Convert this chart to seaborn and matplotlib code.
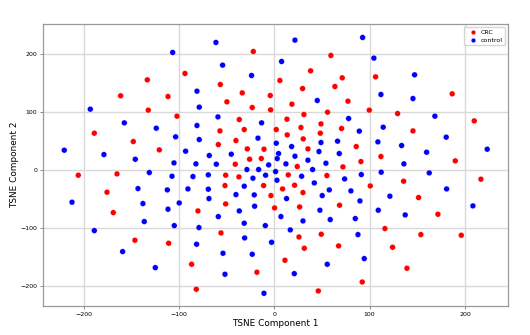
import matplotlib
matplotlib.use("Agg")
import matplotlib.pyplot as plt
import seaborn as sns
import pandas as pd

crc_x = [-22, 59.4, -93.7, 38.1, 106.3, 71.3, -133.2, 5.9, -56.6, 63.6, 29.7, -33.6, 186.7, -161.2,
         -111.5, -4.2, -49.7, 77.3, 18.5, -23.1, -132.2, -3.8, 99.7, 55.9, 129.4, 31.1, -102.1, 13.3,
         -36.7, 209.8, 49, -188.8, 70.6, 28, 2.1, -31.5, -57, 145.5, 48.3, 13.6, 30.4, -147.9, -40.2,
         -58.7, 86, -28.3, -10.8, 35.3, -120.6, 111.9, -13.6, -25.9, 90.9, 189.9, -40.9, 24.1, 72,
         -205.6, -165, -51, -37.1, 14.7, 55.2, 216.8, 135.7, -51.7, -11.2, 21.3, 100.7, 8.7, 30.1,
         -175.5, -3.5, 151.4, -51, 68.5, 26.6, 0.3, -80.1, -168.9, 171.7, 116.1, -55.9, 49.3, 153.8,
         196.2, 25.9, -146.2, -110.8, 67.5, 31.5, 124.1, 11.2, -86.7, 139.2, -18.2, 92.3, -81.8, 46.2]
crc_y = [204.6, 197.7, 166.6, 171.2, 160.8, 159.1, 155.6, 154.5, 147.6, 144.1, 140.6, 133.1, 131.4, 128,
         126.8, 128.5, 117.6, 118.7, 113.5, 107.8, 103.2, 103.7, 103.2, 99.7, 97.4, 95.7, 92.8, 87.6,
         87, 84.7, 79.5, 63.4, 71.5, 73.2, 69.7, 69.7, 67.4, 67.4, 63.4, 60.5, 53.6, 49, 50.7,
         43.8, 40.3, 36.3, 35.7, 36.3, 34.6, 23.1, 19.6, 18.4, 14.4, 15.6, 9.8, 5.8, 5.2,
         -9.2, -6.9, -9.2, -12.1, -8.6, -9.8, -16.1, -19.6, -27.1, -27.1, -26.5, -27.7, -32.9, -39.2,
         -38.6, -44.4, -47.8, -58.8, -61.1, -64, -65.7, -70.9, -73.8, -76.7, -101.4, -108.9, -111.2, -111.8,
         -113, -115.9, -121.6, -126.8, -131.4, -135.4, -133.7, -156.2, -163.1, -170, -176.9, -193.7, -206.3, -209.2]

ctl_x = [92.7, 21.7, -61.2, -106.6, 104.5, 7.7, -54.2, 147.2, -23.8, 111.9, -81.1, 145.5, 45.1, -78.7,
         -193, -59.1, 78, 168.5, -157.3, -13.3, -81.1, 114.3, -123.8, 89.2, -103.5, -17.1, 180.4, -78.7,
         66.4, 2.1, 49, 108.7, 133.6, 18.2, -220.3, 223.4, -93, 46.9, 4.5, -45.1, 68.2, 159.8,
         -68.2, 21.7, -178.7, -145.8, 35.3, 3.1, -105.2, -82.2, -60.8, 54.2, 12.2, -5.9, 136, -28.7,
         -16.4, 40.2, 1.4, -131.1, 112.2, 162.6, -69.2, -9.1, 91.3, -107.3, -85.3, 28.7, -22.4, 73.8,
         2.8, 42, -31.5, -143, -112.2, -90.6, -69.2, 57.7, 80.4, 180.8, -40.2, -21, 50.3, 121.3,
         -68.5, 12.9, -212.2, -99.7, -137.8, 89.9, 208.4, -20.6, -111.5, -36.7, 47.9, 109.1, 137.4, -58.7,
         7, 58.7, 85, -136.4, 30.1, -31.5, -104.9, -9.4, -79, -188.8, 16.8, 87.8, -31.1, -2.8,
         -81.5, -159.1, -53.8, -23.1, 94.4, 55.6, -124.8, -51.7, 21, -10.8]
ctl_y = [228.8, 224.2, 220.2, 202.9, 193.1, 187.3, 181, 164.3, 163.1, 130.3, 136, 123.3, 119.9, 108.4,
         104.9, 91.6, 88.8, 92.8, 81.3, 81.3, 76.7, 73.8, 72, 66.9, 57.1, 54.8, 56.5, 52.4,
         49.6, 46.1, 47.3, 48.4, 42.1, 40.3, 34, 35.7, 32.3, 31.7, 28.2, 27.1, 28.2, 30.5,
         24.8, 23.6, 26.5, 18.4, 16.7, 19.6, 12.1, 10.4, 9.8, 11.5, 10.4, 8.6, 10.4, 0.6,
         0.6, 0.6, -2.9, -4.6, -4, -5.2, -8.6, -9.2, -8.1, -11, -11.5, -11, -14.4, -15.6,
         -17.9, -22.5, -28.2, -32.3, -34.6, -32.9, -33.4, -34.6, -36.3, -32.9, -42.7, -43.2, -44.4, -45.5,
         -49.6, -49.6, -55.9, -57.1, -58.2, -53.6, -62.2, -62.8, -68, -70.9, -69.7, -69.7, -77.8, -80.7,
         -80.7, -85.9, -84.1, -89.3, -88.2, -92.2, -96.3, -96.3, -99.7, -104.9, -103.7, -111.8, -117.6, -125.1,
         -128.5, -141.2, -144.1, -145.8, -153.3, -163.1, -168.9, -180.4, -179.3, -213.3]

groups = ["CRC", "control"]
colors = ["red", "blue"]

df = pd.DataFrame({
    "x": crc_x + ctl_x,
    "y": crc_y + ctl_y,
    "group": [groups[0]] * len(crc_x) + [groups[1]] * len(ctl_x),
})

fig = plt.figure(figsize=(5.3, 3.35), dpi=100)
ax = fig.add_axes([0.081, 0.0866, 0.878, 0.8414])
sns.scatterplot(data=df, x="x", y="y", hue="group", hue_order=groups,
                palette=colors, s=17, edgecolor="white", linewidth=0.2, ax=ax, zorder=3)
ax.set_xlim(-242.7, 245.5)
ax.set_ylim(-235.2, 251.9)
ax.set_xticks([-200, -100, 0, 100, 200])
ax.set_yticks([-200, -100, 0, 100, 200])
ax.grid(True, color="#d9d9d9", linewidth=1)
ax.set_axisbelow(True)
for sp in ax.spines.values():
    sp.set_color("#999999")
    sp.set_linewidth(0.9)
ax.tick_params(labelsize=4.5, length=2, width=0.5, color="#555555", pad=2)
ax.set_xlabel("TSNE Component 1", fontsize=6.4, labelpad=2)
ax.set_ylabel("TSNE Component 2", fontsize=6.4, labelpad=1)
leg = ax.legend(loc="upper right", fontsize=4.5, markerscale=0.8, frameon=True,
                handletextpad=0.3, borderpad=0.4, labelspacing=0.4)
leg.set_title(None)
fig.savefig("out.png", dpi=100)
